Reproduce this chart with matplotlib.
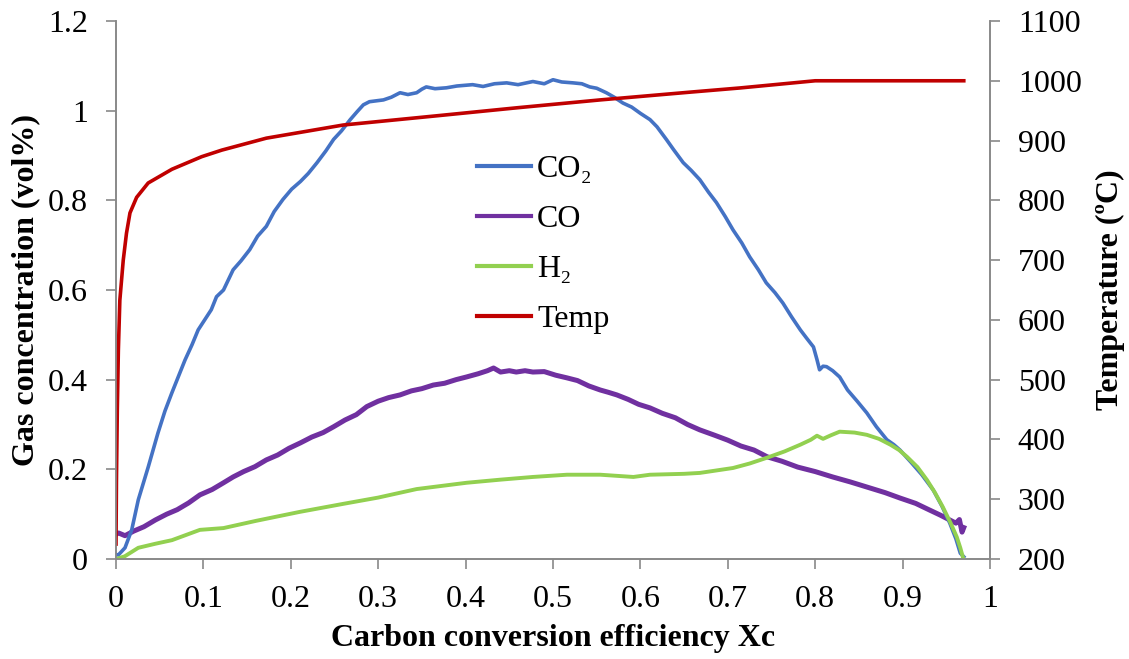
import matplotlib
matplotlib.use("Agg")
import matplotlib.pyplot as plt

# ---------------- data ----------------
co2_x = [0.0, 0.0027, 0.0103, 0.018, 0.0255, 0.037, 0.048, 0.056, 0.064, 0.072, 0.079, 0.087,
         0.094, 0.102, 0.109, 0.115, 0.123, 0.134, 0.143, 0.153, 0.162, 0.172, 0.181, 0.191,
         0.201, 0.211, 0.22, 0.23, 0.24, 0.249, 0.258, 0.268, 0.276, 0.283, 0.29, 0.298,
         0.306, 0.315, 0.325, 0.334, 0.344, 0.35, 0.355, 0.365, 0.378, 0.39, 0.408, 0.42,
         0.433, 0.447, 0.46, 0.477, 0.49, 0.5, 0.51, 0.523, 0.533, 0.542, 0.55, 0.561, 0.57,
         0.58, 0.59, 0.6, 0.611, 0.619, 0.63, 0.638, 0.649, 0.658, 0.668, 0.678, 0.687,
         0.697, 0.706, 0.716, 0.725, 0.735, 0.744, 0.754, 0.763, 0.773, 0.783, 0.79, 0.798,
         0.802, 0.805, 0.809, 0.813, 0.82, 0.828, 0.837, 0.848, 0.859, 0.87, 0.882, 0.89,
         0.897, 0.91, 0.922, 0.935, 0.945, 0.954, 0.961, 0.966, 0.97]
co2_y = [0.01, 0.009, 0.025, 0.065, 0.132, 0.206, 0.281, 0.33, 0.371, 0.41, 0.444, 0.478,
         0.511, 0.535, 0.556, 0.585, 0.6, 0.645, 0.665, 0.69, 0.72, 0.742, 0.775, 0.802,
         0.825, 0.842, 0.86, 0.884, 0.91, 0.936, 0.955, 0.98, 0.998, 1.013, 1.02, 1.022,
         1.024, 1.03, 1.04, 1.036, 1.04, 1.048, 1.053, 1.049, 1.051, 1.055, 1.058, 1.054,
         1.06, 1.062, 1.058, 1.065, 1.06, 1.069, 1.064, 1.062, 1.06, 1.053, 1.05, 1.04,
         1.03, 1.017, 1.008, 0.994, 0.98, 0.964, 0.935, 0.913, 0.884, 0.867, 0.846, 0.818,
         0.795, 0.764, 0.734, 0.705, 0.674, 0.645, 0.616, 0.594, 0.571, 0.54, 0.511, 0.493,
         0.473, 0.445, 0.422, 0.43, 0.429, 0.42, 0.406, 0.377, 0.352, 0.326, 0.295, 0.266,
         0.255, 0.243, 0.215, 0.188, 0.154, 0.118, 0.08, 0.045, 0.013, 0.005]

co_x = [0.0, 0.003, 0.0103, 0.02, 0.032, 0.045, 0.058, 0.07, 0.083, 0.096, 0.11, 0.123,
        0.134, 0.146, 0.159, 0.172, 0.185, 0.198, 0.211, 0.224, 0.237, 0.249, 0.262, 0.275,
        0.287, 0.3, 0.312, 0.325, 0.338, 0.35, 0.363, 0.376, 0.389, 0.401, 0.414, 0.425,
        0.432, 0.44, 0.45, 0.458, 0.468, 0.477, 0.49, 0.503, 0.516, 0.528, 0.541, 0.554,
        0.563, 0.573, 0.586, 0.598, 0.611, 0.625, 0.64, 0.654, 0.668, 0.685, 0.7, 0.715,
        0.73, 0.745, 0.762, 0.78, 0.8, 0.82, 0.84, 0.86, 0.88, 0.897, 0.915, 0.93, 0.943,
        0.954, 0.961, 0.965, 0.968, 0.97]
co_y = [0.055, 0.058, 0.052, 0.062, 0.072, 0.087, 0.1, 0.11, 0.125, 0.143, 0.155, 0.17,
        0.183, 0.195, 0.206, 0.221, 0.232, 0.247, 0.259, 0.272, 0.282, 0.295, 0.31, 0.322,
        0.34, 0.352, 0.36, 0.366, 0.375, 0.38, 0.388, 0.392, 0.4, 0.406, 0.413, 0.42,
        0.426, 0.417, 0.42, 0.417, 0.42, 0.417, 0.418, 0.41, 0.404, 0.398, 0.386, 0.377,
        0.372, 0.366, 0.356, 0.345, 0.337, 0.325, 0.315, 0.3, 0.288, 0.276, 0.265, 0.252,
        0.243, 0.228, 0.218, 0.205, 0.195, 0.183, 0.172, 0.16, 0.148, 0.136, 0.124, 0.11,
        0.098, 0.087, 0.08, 0.088, 0.06, 0.07]

h2_x = [0.0, 0.01, 0.0255, 0.045, 0.064, 0.096, 0.123, 0.16, 0.21, 0.26, 0.3, 0.344,
        0.401, 0.44, 0.477, 0.516, 0.554, 0.592, 0.611, 0.65, 0.668, 0.706, 0.725, 0.745,
        0.765, 0.783, 0.795, 0.802, 0.809, 0.818, 0.828, 0.845, 0.859, 0.873, 0.886,
        0.896, 0.905, 0.917, 0.928, 0.937, 0.946, 0.955, 0.962, 0.966, 0.969]
h2_y = [0.0, 0.006, 0.025, 0.034, 0.042, 0.065, 0.069, 0.085, 0.105, 0.123, 0.137, 0.156,
        0.17, 0.177, 0.183, 0.188, 0.188, 0.183, 0.188, 0.19, 0.192, 0.203, 0.213, 0.226,
        0.24, 0.255, 0.266, 0.275, 0.268, 0.276, 0.284, 0.282, 0.277, 0.268, 0.255, 0.243,
        0.228, 0.205, 0.176, 0.148, 0.116, 0.08, 0.049, 0.025, 0.004]

temp_x = [0.0, 0.0005, 0.0015, 0.0027, 0.0044, 0.0083, 0.012, 0.016, 0.0236, 0.0368,
          0.064, 0.098, 0.121, 0.172, 0.26, 0.371, 0.46, 0.554, 0.657, 0.714, 0.8, 0.97]
temp_y = [225, 330, 450, 549, 633, 700, 745, 779, 805, 829, 852, 873, 884, 904, 926, 942,
          955, 968, 981, 988, 1000, 1000]

x_ticks = [0, 0.1, 0.2, 0.3, 0.4, 0.5, 0.6, 0.7, 0.8, 0.9, 1.0]
x_ticklabels = ["0", "0.1", "0.2", "0.3", "0.4", "0.5", "0.6", "0.7", "0.8", "0.9", "1"]
y_ticks = [0, 0.2, 0.4, 0.6, 0.8, 1.0, 1.2]
y_ticklabels = ["0", "0.2", "0.4", "0.6", "0.8", "1", "1.2"]
t_ticks = [200, 300, 400, 500, 600, 700, 800, 900, 1000, 1100]

labels = ["CO\u2082", "CO", "H\u2082", "Temp"]
colors = ["#4472C4", "#7030A0", "#92D050", "#C00000"]

# ---------------- figure ----------------
plt.rcParams['font.family'] = ['Liberation Serif', 'DejaVu Serif']
FS = 23
fig = plt.figure(figsize=(11.29, 6.59), dpi=100)
ax = fig.add_axes([116 / 1129, 1 - 559 / 659, (990 - 116) / 1129, (559 - 21) / 659])
ax2 = ax.twinx()

l1, = ax.plot(co2_x, co2_y, color=colors[0], lw=2.6, label=labels[0], zorder=3)
l2, = ax.plot(co_x, co_y, color=colors[1], lw=3.6, label=labels[1], zorder=2)
l3, = ax.plot(h2_x, h2_y, color=colors[2], lw=2.8, label=labels[2], zorder=4)
l4, = ax2.plot(temp_x, temp_y, color=colors[3], lw=2.6, label=labels[3])

ax.set_xlim(0, 1)
ax.set_ylim(0, 1.2)
ax2.set_ylim(200, 1100)
ax.set_xticks(x_ticks)
ax.set_xticklabels(x_ticklabels)
ax.set_yticks(y_ticks)
ax.set_yticklabels(y_ticklabels)
ax2.set_yticks(t_ticks)

grey = "#898989"
for a in (ax, ax2):
    a.spines['top'].set_visible(False)
    for s in ('left', 'right', 'bottom'):
        a.spines[s].set_color(grey)
        a.spines[s].set_linewidth(1.2)
ax.tick_params(axis='x', direction='out', length=7, width=1.2, color=grey,
               labelsize=FS, pad=12)
ax.tick_params(axis='y', direction='out', length=7, width=1.2, color=grey,
               labelsize=FS, pad=13)
ax2.tick_params(axis='y', direction='out', length=7, width=1.2, color=grey,
                labelsize=FS, pad=13)

ax.set_ylabel("Gas concentration (vol%)", fontsize=FS, fontweight='bold')
ax.yaxis.set_label_coords(-0.087, 0.5)
ax2.set_ylabel("Temperature (\u00baC)", fontsize=FS, fontweight='bold',
               rotation=90)
ax2.yaxis.set_label_coords(1.121, 0.5)
ax.set_xlabel("Carbon conversion efficiency Xc", fontsize=FS, fontweight='bold')
ax.xaxis.set_label_coords(0.5, -0.12)

leg = fig.legend([l1, l2, l3, l4], labels, loc='upper left',
                 bbox_to_anchor=(477 / 1129, 1 - 155 / 659), frameon=False,
                 fontsize=FS, handlelength=1.69, handletextpad=0.19,
                 labelspacing=0.64, borderpad=0, borderaxespad=0)
for h in leg.legend_handles:
    h.set_linewidth(3)

fig.savefig("out.png", dpi=100)
